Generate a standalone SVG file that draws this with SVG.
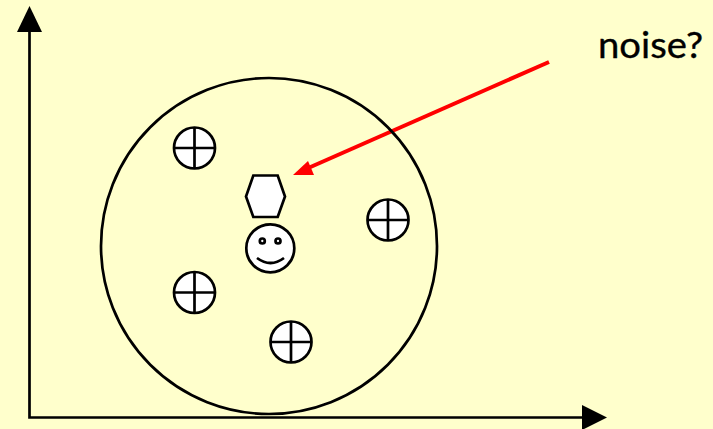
<svg xmlns="http://www.w3.org/2000/svg" width="713" height="429" viewBox="0 0 713 429">
  <defs>
    <g id="plus">
      <circle r="20.5" class="shape"/>
      <path d="M-20.5 0H20.5M0 -20.5V20.5" class="line"/>
    </g>
  </defs>
  <style>
    .shape { fill: #ffffff; stroke: #000000; stroke-width: 2.7; }
    .line { fill: none; stroke: #000000; stroke-width: 2.7; }
    .ring { fill: none; stroke: #000000; stroke-width: 2.7; }
    .label { font-family: "Lato", "DejaVu Sans", sans-serif; font-size: 36px; fill: #000000; stroke: #000000; stroke-width: 0.35; }
  </style>
  <rect width="713" height="429" fill="#ffffcc"/>
  <g id="connectors">
    <path class="line" d="M29.5 30V417.5H584"/>
    <polygon points="29.5,6 17,32 42,32" fill="#000000"/>
    <polygon points="607,417.5 582,405 582,430" fill="#000000"/>
    <path d="M549 62L306 169" fill="none" stroke="#ff0000" stroke-width="4"/>
    <polygon points="293,175 308,161 314,175" fill="#ff0000"/>
  </g>
  <g id="cluster"><circle class="ring" cx="269" cy="246" r="168"/></g>
  <g id="plus-1"><use href="#plus" x="194.5" y="148"/></g>
  <g id="plus-2"><use href="#plus" x="388" y="220"/></g>
  <g id="plus-3"><use href="#plus" x="194.5" y="292.5"/></g>
  <g id="plus-4"><use href="#plus" x="291" y="342"/></g>
  <g id="hexagon"><polygon class="shape" points="253.3,175.5 277.7,175.5 285,196.5 277.7,217 253.3,217 246,196.5"/></g>
  <g id="smiley">
    <circle class="shape" cx="270.3" cy="248.3" r="24"/>
    <circle class="line" cx="262.3" cy="241" r="2.5"/>
    <circle class="line" cx="278" cy="241" r="2.5"/>
    <path class="line" d="M257 258Q270.5 268 284 258"/>
  </g>
  <g id="noise-label"><text class="label" x="598" y="58" textLength="105" lengthAdjust="spacingAndGlyphs">noise?</text></g>
</svg>
